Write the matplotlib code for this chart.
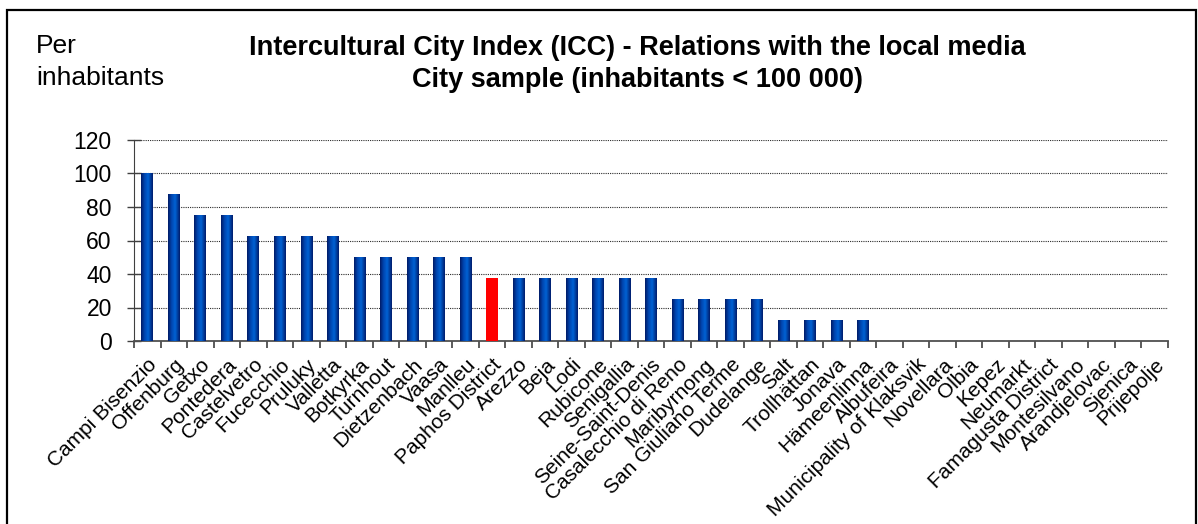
import matplotlib
matplotlib.use("Agg")
import matplotlib.pyplot as plt
import numpy as np
from matplotlib.colors import LinearSegmentedColormap
from matplotlib.patches import Rectangle

plt.rcParams['font.family'] = ['Liberation Sans', 'DejaVu Sans']

cities = ["Campi Bisenzio", "Offenburg", "Getxo", "Pontedera", "Castelvetro",
          "Fucecchio", "Pruluky", "Valletta", "Botkyrka", "Turnhout",
          "Dietzenbach", "Vaasa", "Manlleu", "Paphos District", "Arezzo",
          "Beja", "Lodi", "Rubicone", "Senigallia", "Seine-Saint-Denis",
          "Casalecchio di Reno", "Maribyrnong", "San Giuliano Terme", "Dudelange",
          "Salt", "Trollhättan", "Jonava", "Hämeenlinna", "Albufeira",
          "Municipality of Klaksvik", "Novellara", "Olbia", "Kepez", "Neumarkt",
          "Famagusta District", "Montesilvano", "Arandjelovac", "Sjenica", "Prijepolje"]
scores = [100, 87.5, 75, 75, 62.5, 62.5, 62.5, 62.5, 50, 50,
          50, 50, 50, 37.5, 37.5, 37.5, 37.5, 37.5, 37.5, 37.5,
          25, 25, 25, 25, 12.5, 12.5, 12.5, 12.5, 0, 0,
          0, 0, 0, 0, 0, 0, 0, 0, 0]
highlight = "Paphos District"

W, H = 1198, 524
fig = plt.figure(figsize=(W / 100, H / 100), dpi=100)
ax = fig.add_axes([134 / W, 1 - 341 / H, 1034 / W, 201 / H])

# blue bars get a horizontal shading: dark edges, bright middle
shade = LinearSegmentedColormap.from_list(
    "bar", [(0, "#001a66"), (0.3, "#0046b0"), (0.6, "#0062d4"), (1, "#001c6c")])
grad = np.linspace(0, 1, 64).reshape(1, -1)
bw = 0.44
x = np.arange(len(cities))
for xi, name, v in zip(x, cities, scores):
    if v <= 0:
        continue
    if name == highlight:
        ax.bar(xi, v, width=bw, color="#ff0000", zorder=3)
    else:
        ax.imshow(grad, cmap=shade, aspect="auto", zorder=3,
                  extent=(xi - bw / 2, xi + bw / 2, 0, v))

ax.set_xlim(-0.5, len(cities) - 0.5)
ax.set_ylim(0, 120)
ax.set_yticks(np.arange(0, 121, 20))
ax.tick_params(axis='y', labelsize=16.5, length=10, width=1, direction='inout',
               color="#404040", pad=11)
ax.yaxis.grid(True, linestyle=(0, (1, 1)), color="#2a2a2a", linewidth=0.8, zorder=0)
ax.set_axisbelow(True)

# category ticks sit on the boundaries between bars
ax.set_xticks(np.arange(len(cities) + 1) - 0.5)
ax.set_xticklabels([])
ax.tick_params(axis='x', length=5, width=1.2, color="#404040")
ax.set_xticks(x, minor=True)
ax.set_xticklabels(cities, minor=True, rotation=45, ha='right',
                   rotation_mode='anchor', fontsize=15)
ax.tick_params(axis='x', which='minor', length=0, pad=10)

for side in ("top", "right"):
    ax.spines[side].set_visible(False)
ax.spines["left"].set_color("#404040")
ax.spines["bottom"].set_color("#505050")
ax.spines["bottom"].set_linewidth(1.3)

fig.text(36 / W, 1 - 53 / H, "Per", fontsize=19, ha="left", va="baseline")
fig.text(36 / W, 1 - 85 / H, "inhabitants", fontsize=19, ha="left", va="baseline")
fig.text(637 / W, 1 - 55 / H,
         "Intercultural City Index (ICC) - Relations with the local media",
         fontsize=19.5, fontweight="bold", ha="center", va="baseline")
fig.text(637 / W, 1 - 87 / H, "City sample (inhabitants < 100 000)",
         fontsize=19.5, fontweight="bold", ha="center", va="baseline")

fig.add_artist(Rectangle((7 / W, -0.02), (1196 - 7) / W, 1.02 - 10 / H,
                         transform=fig.transFigure, fill=False,
                         edgecolor="black", linewidth=1.6))

fig.savefig("out.png", dpi=100)
